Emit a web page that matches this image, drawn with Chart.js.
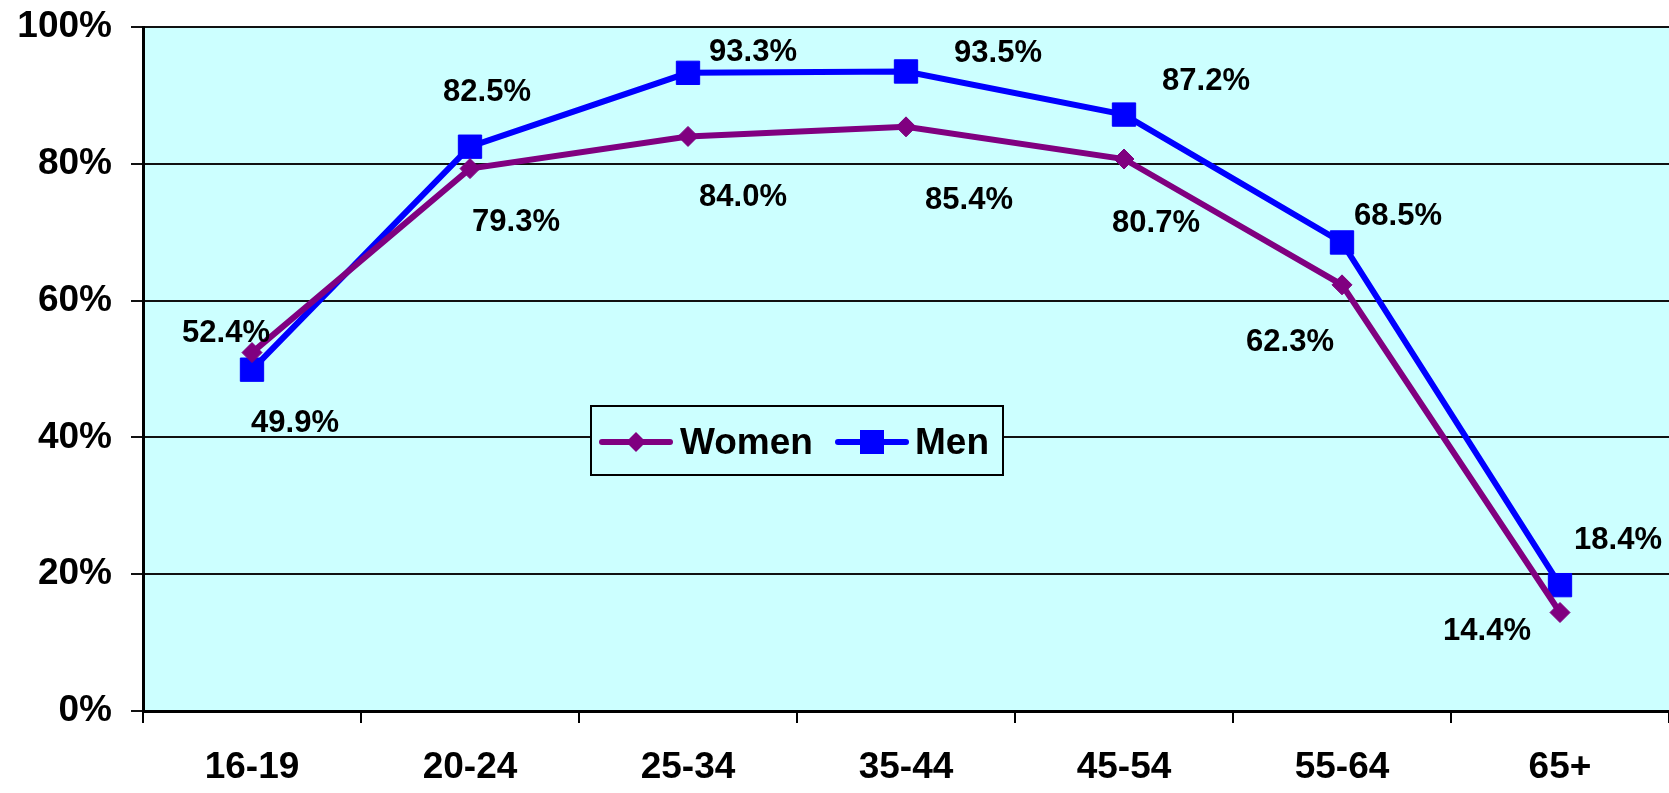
<!DOCTYPE html>
<html>
<head>
<meta charset="utf-8">
<script src="https://cdn.jsdelivr.net/npm/chart.js@4/dist/chart.umd.min.js"></script>
<style>
    html, body { margin: 0; padding: 0; background: #fff; overflow: hidden; }
    #wrap { width: 1669px; height: 793px; }
    canvas { display: block; }
</style>
</head>
<body>
<div id="wrap"><canvas id="myChart" width="1669" height="793"></canvas></div>
<script>
const ageGroups = ["16-19", "20-24", "25-34", "35-44", "45-54", "55-64", "65+"];
const womenRates = [52.4, 79.3, 84.0, 85.4, 80.7, 62.3, 14.4];
const menRates = [49.9, 82.5, 93.3, 93.5, 87.2, 68.5, 18.4];
const yTicks = [0, 20, 40, 60, 80, 100];

// label offsets from each point, in pixels
const womenLabelShift = [[-26, -19], [46, 54], [55, 61], [63, 74], [32, 64], [-52, 58], [-73, 19]];
const menLabelShift = [[43, 54], [17, -54], [65, -20], [92, -18], [82, -33], [56, -26], [58, -45]];

const FONT = "'Liberation Sans', Arial, sans-serif";

const plotBackground = {
    id: "plotBackground",
    beforeDraw(chart) {
        const { ctx, chartArea: a } = chart;
        ctx.save();
        ctx.fillStyle = "#CCFFFF";
        ctx.fillRect(a.left, a.top, a.right - a.left, a.bottom - a.top);
        ctx.restore();
    }
};

const pointLabels = {
    id: "pointLabels",
    afterDatasetsDraw(chart) {
        const ctx = chart.ctx;
        const shifts = [womenLabelShift, menLabelShift];
        ctx.save();
        ctx.font = "bold 31px " + FONT;
        ctx.fillStyle = "#000";
        ctx.textAlign = "center";
        ctx.textBaseline = "middle";
        chart.data.datasets.forEach((ds, di) => {
            chart.getDatasetMeta(di).data.forEach((pt, i) => {
                const [dx, dy] = shifts[di][i];
                ctx.fillText(ds.data[i].toFixed(1) + "%", pt.x + dx, pt.y + dy);
            });
        });
        ctx.restore();
    }
};

const boxLegend = {
    id: "boxLegend",
    afterDraw(chart) {
        const ctx = chart.ctx;
        const ds = chart.data.datasets;
        ctx.save();
        ctx.fillStyle = "#CCFFFF";
        ctx.fillRect(591, 406, 412, 69);
        ctx.strokeStyle = "#000";
        ctx.lineWidth = 2;
        ctx.strokeRect(591, 406, 412, 69);

        const items = [
            { x: 602, text: 680 },
            { x: 838, text: 915 }
        ];
        const y = 442;
        items.forEach((it, i) => {
            ctx.strokeStyle = ds[i].borderColor;
            ctx.lineWidth = 6;
            ctx.lineCap = "round";
            ctx.beginPath();
            ctx.moveTo(it.x, y);
            ctx.lineTo(it.x + 68, y);
            ctx.stroke();
            ctx.fillStyle = ds[i].borderColor;
            const cx = it.x + 34;
            if (i === 0) {
                ctx.beginPath();
                ctx.moveTo(cx - 10, y);
                ctx.lineTo(cx, y - 10);
                ctx.lineTo(cx + 10, y);
                ctx.lineTo(cx, y + 10);
                ctx.closePath();
                ctx.fill();
            } else {
                ctx.fillRect(cx - 12, y - 12, 24, 24);
            }
            ctx.fillStyle = "#000";
            ctx.font = "bold 37px " + FONT;
            ctx.textAlign = "left";
            ctx.textBaseline = "middle";
            ctx.fillText(ds[i].label, it.text, y + 2);
        });
        ctx.restore();
    }
};

const noScalePadding = scale => {
    scale.paddingTop = 0;
    scale.paddingBottom = 0;
    scale.paddingLeft = 0;
    scale.paddingRight = 0;
};

new Chart(document.getElementById("myChart"), {
    type: "line",
    data: {
        labels: ageGroups,
        datasets: [
            {
                label: "Women",
                data: womenRates,
                borderColor: "#800080",
                backgroundColor: "#800080",
                borderWidth: 6,
                pointStyle: "rectRot",
                pointRadius: 10,
                pointBorderWidth: 1,
                pointBackgroundColor: "#800080",
                pointBorderColor: "#800080",
                tension: 0
            },
            {
                label: "Men",
                data: menRates,
                borderColor: "#0000FF",
                backgroundColor: "#0000FF",
                borderWidth: 6,
                pointStyle: "rect",
                pointRadius: 16.5,
                pointBorderWidth: 1,
                pointBackgroundColor: "#0000FF",
                pointBorderColor: "#0000FF",
                tension: 0
            }
        ]
    },
    options: {
        responsive: false,
        animation: false,
        layout: {
            autoPadding: false,
            padding: { top: 27, right: 0, left: 0, bottom: 0 }
        },
        plugins: {
            legend: { display: false },
            tooltip: { enabled: false }
        },
        scales: {
            x: {
                offset: true,
                afterFit: scale => {
                    scale.height = 82;
                    noScalePadding(scale);
                },
                grid: {
                    offset: true,
                    drawOnChartArea: false,
                    tickLength: 12,
                    color: "#000",
                    lineWidth: 2
                },
                border: { color: "#000", width: 3 },
                ticks: {
                    color: "#000",
                    padding: 23,
                    font: { family: FONT, size: 37, weight: "bold" }
                }
            },
            y: {
                min: 0,
                max: 100,
                afterFit: scale => {
                    scale.width = 143;
                    noScalePadding(scale);
                },
                afterBuildTicks: scale => {
                    scale.ticks = yTicks.map(v => ({ value: v }));
                },
                grid: {
                    tickLength: 12,
                    color: "#111",
                    lineWidth: 2
                },
                border: { color: "#000", width: 3 },
                ticks: {
                    color: "#000",
                    padding: 19,
                    callback: v => v + "%",
                    font: { family: FONT, size: 37, weight: "bold" }
                }
            }
        }
    },
    plugins: [plotBackground, pointLabels, boxLegend]
});
</script>
</body>
</html>
